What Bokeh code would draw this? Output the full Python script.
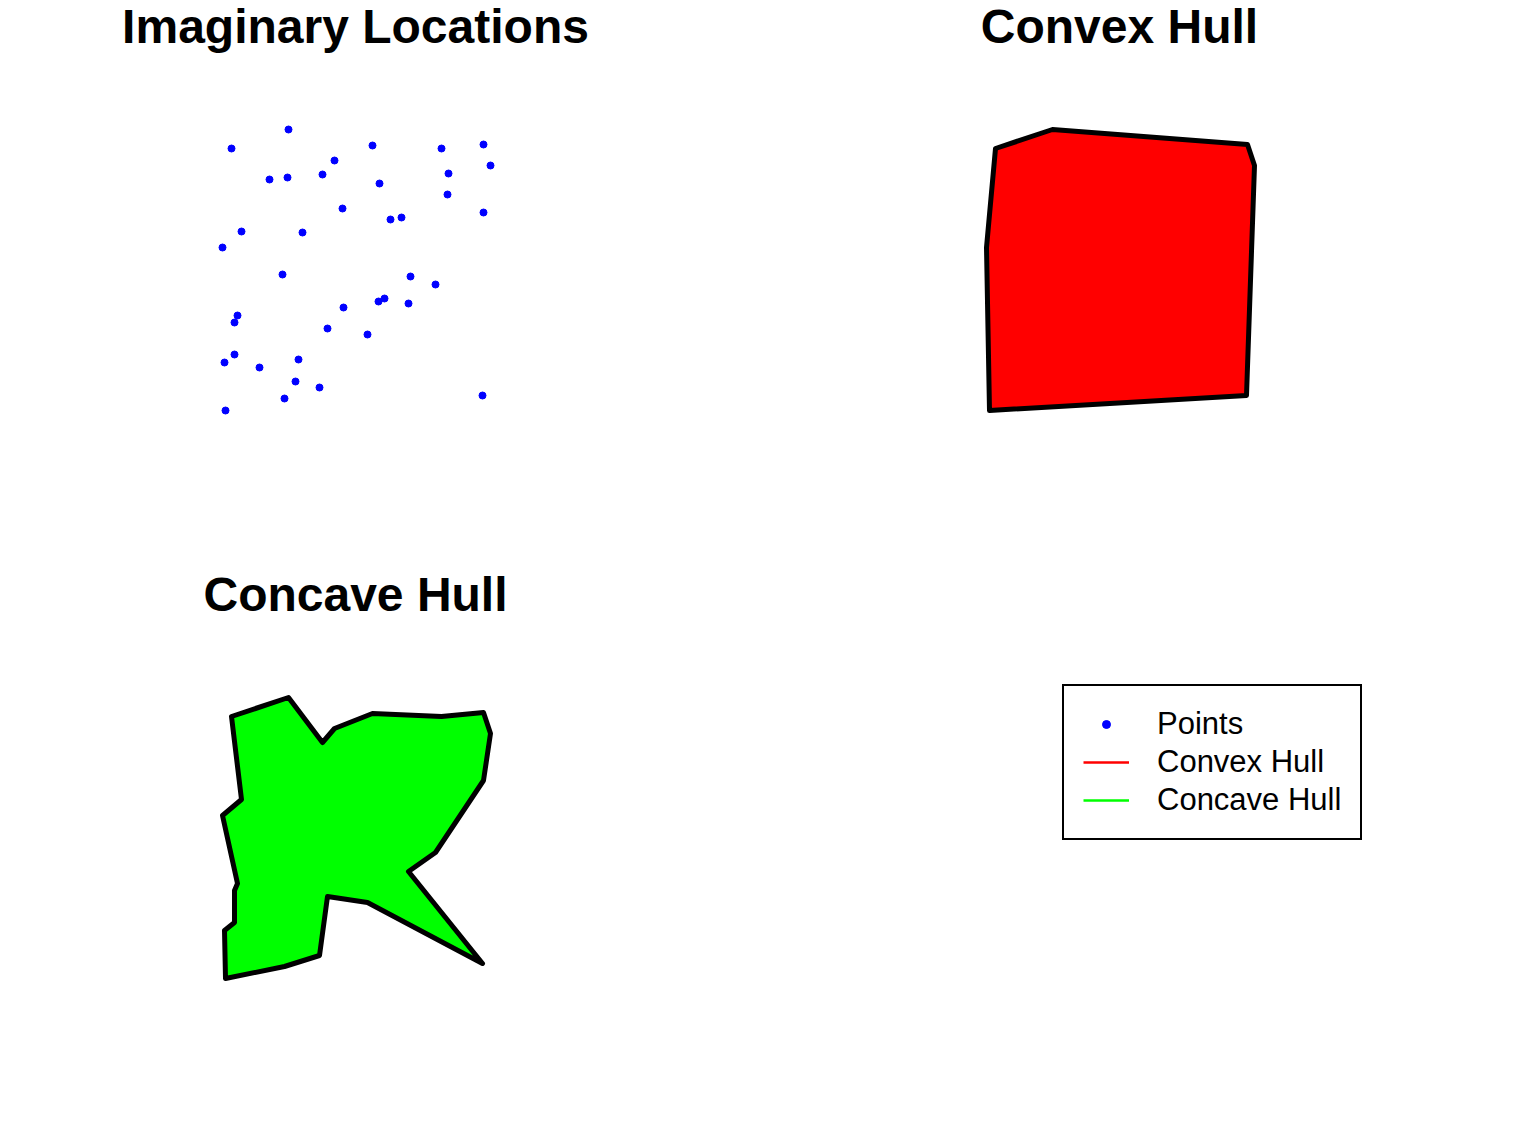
from bokeh.plotting import figure
from bokeh.layouts import gridplot
from bokeh.models import Range1d, Legend, LegendItem
from bokeh.core.properties import value
from bokeh.embed import file_html
from bokeh.resources import INLINE

# Imaginary locations
pts_x = [8.8, 3.1, 13.4, 12.2, 6.9, 8.7, 14.2, 4.1, 10.2, 2.2,
         17.2, 24.1, 28.3, 29.0, 24.8, 17.9, 24.7, 28.3, 19.0, 20.1,
         8.2, 14.3, 3.7, 3.4, 12.7, 3.4, 2.4, 5.9, 9.8, 9.5,
         11.9, 8.4, 2.5, 21.0, 23.5, 17.8, 18.4, 20.8, 16.7, 28.2]
pts_y = [30.1, 28.2, 27.0, 25.6, 25.1, 25.3, 22.2, 19.9, 19.8, 18.3,
         28.5, 28.2, 28.6, 26.5, 25.7, 24.7, 23.6, 21.8, 21.1, 21.3,
         15.6, 12.3, 11.5, 10.8, 10.2, 7.6, 6.8, 6.3, 7.1, 4.9,
         4.3, 3.2, 2.0, 15.4, 14.6, 12.9, 13.2, 12.7, 9.6, 3.5]

# Hull vertex orders (indices into the points)
convex_idx = [1, 0, 12, 13, 39, 32, 9]
concave_idx = [1, 0, 3, 2, 10, 11, 12, 13, 17, 34, 37, 39, 38, 24, 30,
               31, 32, 26, 25, 23, 22, 9, 7]

titles = ["Imaginary Locations", "Convex Hull", "Concave Hull"]
legend_labels = ["Points", "Convex Hull", "Concave Hull"]

FONT_NAME = "Liberation Sans"
FONT = value(FONT_NAME)

cvx_x = [pts_x[i] for i in convex_idx]
cvx_y = [pts_y[i] for i in convex_idx]
ccv_x = [pts_x[i] for i in concave_idx]
ccv_y = [pts_y[i] for i in concave_idx]


def panel(w, h):
    # 10 px per data unit, same mapping in every panel
    p = figure(width=w, height=h, output_backend="svg", toolbar_location=None,
               x_axis_type=None, y_axis_type=None, title=None,
               x_range=Range1d(-20, -20 + w / 10), y_range=Range1d(43 - h / 10, 43),
               min_border=0, outline_line_color=None)
    p.grid.visible = False
    return p


def add_title(p, txt):
    p.text(x=[15.5], y=[40.4], text=[txt], text_align="center",
           text_baseline="alphabetic", text_font=FONT, text_font_size="48px",
           text_font_style="bold", text_color="black")


p1 = panel(764, 568)
add_title(p1, titles[0])
p1.scatter(pts_x, pts_y, size=7, color="#0000FF")

p2 = panel(763, 568)
add_title(p2, titles[1])
p2.patch(cvx_x, cvx_y, fill_color="#FF0000", line_color="black",
         line_width=5, line_join="round")

p3 = panel(764, 569)
add_title(p3, titles[2])
p3.patch(ccv_x, ccv_y, fill_color="#00FF00", line_color="black",
         line_width=5, line_join="round")

# legend panel: the key renderers sit on an off-canvas range, only their keys show
p4 = panel(763, 569)
p4.extra_x_ranges = {"key": Range1d(1000, 1100)}
r_pts = p4.scatter(pts_x, pts_y, size=11, color="#0000FF", x_range_name="key")
r_cvx = p4.line(cvx_x, cvx_y, line_color="#FF0000", line_width=2.5, x_range_name="key")
r_ccv = p4.line(ccv_x, ccv_y, line_color="#00FF00", line_width=2.5, x_range_name="key")
legend = Legend(items=[LegendItem(label=legend_labels[0], renderers=[r_pts]),
                       LegendItem(label=legend_labels[1], renderers=[r_cvx]),
                       LegendItem(label=legend_labels[2], renderers=[r_ccv])],
                location=(298, 297), margin=0, padding=19,
                label_text_font=FONT_NAME, label_text_font_size="31px",
                label_text_color="black", label_standoff=28,
                glyph_width=46, glyph_height=20, label_height=38, label_width=181,
                spacing=0, border_line_color="black", border_line_width=2,
                border_line_alpha=1.0,
                background_fill_color="white", background_fill_alpha=1)
p4.add_layout(legend)

grid = gridplot([[p1, p2], [p3, p4]], toolbar_location=None)
open("out.html", "w").write(file_html(grid, INLINE))
